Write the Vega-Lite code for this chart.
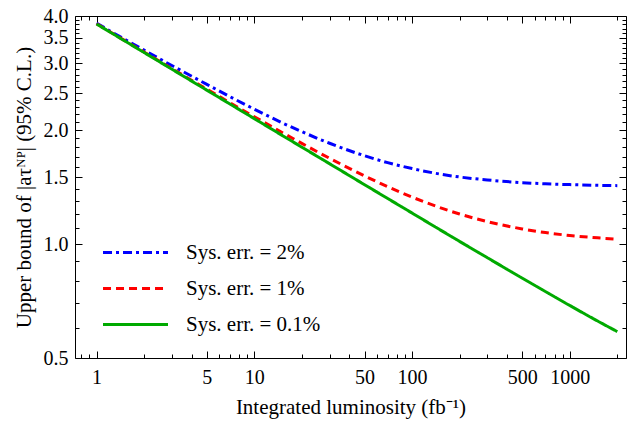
{
  "$schema": "https://vega.github.io/schema/vega-lite/v6.json",
  "width": 551,
  "height": 342,
  "autosize": "none",
  "padding": {"left": 75, "top": 16, "right": 1, "bottom": 67},
  "background": "white",
  "config": {
    "view": {"stroke": "black", "strokeWidth": 1},
    "font": "Liberation Serif",
    "axis": {"domain": false, "grid": false, "tickColor": "black", "labelColor": "black", "titleColor": "black", "labelFont": "Liberation Serif", "titleFont": "Liberation Serif", "labelFontSize": 20, "titleFontSize": 21, "titleFontWeight": "normal"},
    "legend": {"labelFont": "Liberation Serif", "labelFontSize": 21, "labelColor": "black"}
  },
  "data": {
    "values": [
      {"L": 1, "a": 3.83, "s": "Sys. err. = 2%"},
      {"L": 1.5, "a": 3.475, "s": "Sys. err. = 2%"},
      {"L": 2, "a": 3.25, "s": "Sys. err. = 2%"},
      {"L": 3, "a": 2.96, "s": "Sys. err. = 2%"},
      {"L": 5, "a": 2.64, "s": "Sys. err. = 2%"},
      {"L": 7, "a": 2.45, "s": "Sys. err. = 2%"},
      {"L": 10, "a": 2.27, "s": "Sys. err. = 2%"},
      {"L": 15, "a": 2.09, "s": "Sys. err. = 2%"},
      {"L": 20, "a": 1.98, "s": "Sys. err. = 2%"},
      {"L": 30, "a": 1.845, "s": "Sys. err. = 2%"},
      {"L": 50, "a": 1.71, "s": "Sys. err. = 2%"},
      {"L": 70, "a": 1.64, "s": "Sys. err. = 2%"},
      {"L": 100, "a": 1.582, "s": "Sys. err. = 2%"},
      {"L": 150, "a": 1.53, "s": "Sys. err. = 2%"},
      {"L": 200, "a": 1.503, "s": "Sys. err. = 2%"},
      {"L": 300, "a": 1.476, "s": "Sys. err. = 2%"},
      {"L": 500, "a": 1.452, "s": "Sys. err. = 2%"},
      {"L": 700, "a": 1.442, "s": "Sys. err. = 2%"},
      {"L": 1000, "a": 1.435, "s": "Sys. err. = 2%"},
      {"L": 1500, "a": 1.429, "s": "Sys. err. = 2%"},
      {"L": 2000, "a": 1.426, "s": "Sys. err. = 2%"},
      {"L": 1, "a": 3.815, "s": "Sys. err. = 1%"},
      {"L": 1.5, "a": 3.449, "s": "Sys. err. = 1%"},
      {"L": 2, "a": 3.212, "s": "Sys. err. = 1%"},
      {"L": 3, "a": 2.905, "s": "Sys. err. = 1%"},
      {"L": 5, "a": 2.563, "s": "Sys. err. = 1%"},
      {"L": 7, "a": 2.362, "s": "Sys. err. = 1%"},
      {"L": 10, "a": 2.168, "s": "Sys. err. = 1%"},
      {"L": 15, "a": 1.97, "s": "Sys. err. = 1%"},
      {"L": 20, "a": 1.844, "s": "Sys. err. = 1%"},
      {"L": 30, "a": 1.684, "s": "Sys. err. = 1%"},
      {"L": 50, "a": 1.513, "s": "Sys. err. = 1%"},
      {"L": 70, "a": 1.417, "s": "Sys. err. = 1%"},
      {"L": 100, "a": 1.33, "s": "Sys. err. = 1%"},
      {"L": 150, "a": 1.248, "s": "Sys. err. = 1%"},
      {"L": 200, "a": 1.2, "s": "Sys. err. = 1%"},
      {"L": 300, "a": 1.146, "s": "Sys. err. = 1%"},
      {"L": 500, "a": 1.096, "s": "Sys. err. = 1%"},
      {"L": 700, "a": 1.072, "s": "Sys. err. = 1%"},
      {"L": 1000, "a": 1.053, "s": "Sys. err. = 1%"},
      {"L": 1500, "a": 1.038, "s": "Sys. err. = 1%"},
      {"L": 2000, "a": 1.03, "s": "Sys. err. = 1%"},
      {"L": 1, "a": 3.81, "s": "Sys. err. = 0.1%"},
      {"L": 1.5, "a": 3.443, "s": "Sys. err. = 0.1%"},
      {"L": 2, "a": 3.204, "s": "Sys. err. = 0.1%"},
      {"L": 3, "a": 2.895, "s": "Sys. err. = 0.1%"},
      {"L": 5, "a": 2.548, "s": "Sys. err. = 0.1%"},
      {"L": 7, "a": 2.343, "s": "Sys. err. = 0.1%"},
      {"L": 10, "a": 2.143, "s": "Sys. err. = 0.1%"},
      {"L": 15, "a": 1.936, "s": "Sys. err. = 0.1%"},
      {"L": 20, "a": 1.802, "s": "Sys. err. = 0.1%"},
      {"L": 30, "a": 1.629, "s": "Sys. err. = 0.1%"},
      {"L": 50, "a": 1.434, "s": "Sys. err. = 0.1%"},
      {"L": 70, "a": 1.319, "s": "Sys. err. = 0.1%"},
      {"L": 100, "a": 1.207, "s": "Sys. err. = 0.1%"},
      {"L": 150, "a": 1.091, "s": "Sys. err. = 0.1%"},
      {"L": 200, "a": 1.016, "s": "Sys. err. = 0.1%"},
      {"L": 300, "a": 0.92, "s": "Sys. err. = 0.1%"},
      {"L": 500, "a": 0.812, "s": "Sys. err. = 0.1%"},
      {"L": 700, "a": 0.749, "s": "Sys. err. = 0.1%"},
      {"L": 1000, "a": 0.688, "s": "Sys. err. = 0.1%"},
      {"L": 1500, "a": 0.626, "s": "Sys. err. = 0.1%"},
      {"L": 2000, "a": 0.587, "s": "Sys. err. = 0.1%"}
    ]
  },
  "resolve": {"axis": {"x": "independent", "y": "independent"}},
  "layer": [
    {
      "mark": {"type": "line", "strokeWidth": 3, "strokeCap": "butt", "interpolate": "monotone"},
      "encoding": {
        "x": {"field": "L", "type": "quantitative", "scale": {"type": "log", "domain": [0.73, 2270], "nice": false},
          "axis": {"orient": "bottom", "title": "Integrated luminosity (fb⁻¹)", "values": [1, 5, 10, 50, 100, 500, 1000], "format": "d", "tickSize": -7, "labelPadding": 16, "titlePadding": 9, "labelFlush": false}},
        "y": {"field": "a", "type": "quantitative", "scale": {"type": "log", "domain": [0.5, 4.0], "nice": false},
          "axis": {"orient": "left", "title": "Upper bound of |aτᴺᴾ| (95% C.L.)", "values": [0.5, 1.0, 1.5, 2.0, 2.5, 3.0, 3.5, 4.0], "format": ".1f", "tickSize": -7, "labelPadding": 14, "titlePadding": 9, "labelFlush": false}},
        "color": {"field": "s", "type": "nominal", "sort": ["Sys. err. = 2%", "Sys. err. = 1%", "Sys. err. = 0.1%"],
          "scale": {"domain": ["Sys. err. = 2%", "Sys. err. = 1%", "Sys. err. = 0.1%"], "range": ["#0000ff", "#ff0000", "#00aa00"]},
          "legend": {"title": null, "orient": "none", "legendX": 48, "legendY": 224, "symbolType": "M-3,0H3", "symbolSize": 469, "symbolStrokeWidth": 3, "labelOffset": 38, "rowPadding": 13}},
        "strokeDash": {"field": "s", "type": "nominal", "sort": ["Sys. err. = 2%", "Sys. err. = 1%", "Sys. err. = 0.1%"],
          "scale": {"domain": ["Sys. err. = 2%", "Sys. err. = 1%", "Sys. err. = 0.1%"], "range": [[9, 4, 3, 4], [8, 5], [1, 0]]},
          "legend": null}
      }
    },
    {
      "mark": {"type": "line", "opacity": 0},
      "encoding": {
        "x": {"field": "L", "type": "quantitative", "axis": {"orient": "bottom", "title": null, "labels": false, "tickSize": -4, "values": [0.8, 0.9, 2, 3, 4, 6, 7, 8, 9, 20, 30, 40, 60, 70, 80, 90, 200, 300, 400, 600, 700, 800, 900, 2000]}},
        "y": {"field": "a", "type": "quantitative", "axis": {"orient": "left", "title": null, "labels": false, "tickSize": -4, "values": [0.6, 0.7, 0.8, 0.9, 1.1, 1.2, 1.3, 1.4, 1.6, 1.7, 1.8, 1.9, 2.1, 2.2, 2.3, 2.4, 2.6, 2.7, 2.8, 2.9, 3.1, 3.2, 3.3, 3.4, 3.6, 3.7, 3.8, 3.9]}},
        "detail": {"field": "s"}
      }
    },
    {
      "mark": {"type": "line", "opacity": 0},
      "encoding": {
        "x": {"field": "L", "type": "quantitative", "axis": {"orient": "top", "title": null, "labels": false, "tickSize": -7, "values": [1, 5, 10, 50, 100, 500, 1000]}},
        "y": {"field": "a", "type": "quantitative", "axis": {"orient": "right", "title": null, "labels": false, "tickSize": -7, "values": [0.5, 1.0, 1.5, 2.0, 2.5, 3.0, 3.5, 4.0]}},
        "detail": {"field": "s"}
      }
    },
    {
      "mark": {"type": "line", "opacity": 0},
      "encoding": {
        "x": {"field": "L", "type": "quantitative", "axis": {"orient": "top", "title": null, "labels": false, "tickSize": -4, "values": [0.8, 0.9, 2, 3, 4, 6, 7, 8, 9, 20, 30, 40, 60, 70, 80, 90, 200, 300, 400, 600, 700, 800, 900, 2000]}},
        "y": {"field": "a", "type": "quantitative", "axis": {"orient": "right", "title": null, "labels": false, "tickSize": -4, "values": [0.6, 0.7, 0.8, 0.9, 1.1, 1.2, 1.3, 1.4, 1.6, 1.7, 1.8, 1.9, 2.1, 2.2, 2.3, 2.4, 2.6, 2.7, 2.8, 2.9, 3.1, 3.2, 3.3, 3.4, 3.6, 3.7, 3.8, 3.9]}},
        "detail": {"field": "s"}
      }
    }
  ]
}
